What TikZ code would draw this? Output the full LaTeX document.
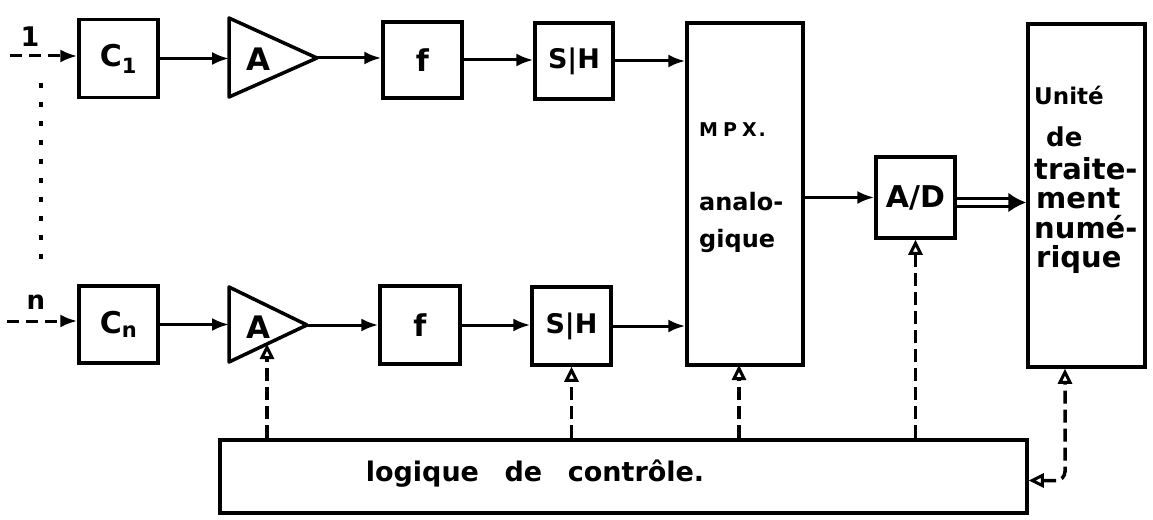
\documentclass[tikz,border=0pt]{standalone}
\usepackage{fontspec}
\setmainfont{DejaVu Sans}
\usetikzlibrary{arrows.meta,calc}
\tikzset{
  ctltip/.tip={Triangle[open,length=15pt,width=14pt,line width=3pt]},
  sigtip/.tip={Latex[length=17pt,width=13pt]}
}
\begin{document}
\begin{tikzpicture}[x=1pt,y=-1pt,
  blk/.style={draw,line width=3.5pt,inner sep=0pt,minimum width=79pt,minimum height=78pt,font=\fontsize{30}{36}\selectfont\bfseries},
  amp/.style={draw,line width=3.5pt,line join=round},
  lbl/.style={inner sep=0pt,font=\fontsize{31}{36}\selectfont\bfseries},
  sig/.style={line width=3pt,-sigtip},
  inp/.style={sig,dash pattern=on 12pt off 7pt},
  ctl/.style={line width=3.5pt,dash pattern=on 13pt off 6pt,-ctltip},
  dotl/.style={line width=3.5pt,dash pattern=on 5pt off 14pt},
  txt/.style={inner sep=0pt,font=\fontsize{24}{30}\selectfont\bfseries},
  utx/.style={inner sep=0pt,anchor=base west,font=\fontsize{29}{36}\selectfont\bfseries}]
\useasboundingbox (0,0) rectangle (1153,519);

% ---------- top channel ----------
\node[lbl,font=\fontsize{27}{32}\selectfont\bfseries] (n1) at (30,37) {1};
\coordinate (in1) at (10,56);
\node[blk] (C1) at (118.5,58.5) {C\textsubscript{1}};
\draw[amp] (229,18) -- (229,97) -- (317,58) -- cycle;
\coordinate (A1in) at (229,58);
\coordinate (A1out) at (317,58);
\node[lbl] (A1) at (258,59) {A};
\node[blk,minimum height=76pt] (F1) at (422.5,60) {f};
\node[blk,minimum width=78pt,minimum height=76pt,font=\fontsize{27}{34}\selectfont\bfseries] (SH1) at (574,61) {S|H};

% ---------- bottom channel ----------
\node[lbl,font=\fontsize{26}{32}\selectfont\bfseries] (nn) at (36,302) {n};
\coordinate (inn) at (7,321);
\node[blk,minimum height=77pt] (Cn) at (118.5,324.5) {C\textsubscript{n}};
\draw[amp] (229,287) -- (229,362) -- (307,325) -- cycle;
\coordinate (A2in) at (229,324.5);
\coordinate (A2out) at (307,325);
\coordinate (A2c) at (267,344);
\node[lbl] (A2) at (258,327) {A};
\node[blk,minimum width=80pt] (F2) at (420,325) {f};
\node[blk,font=\fontsize{27}{34}\selectfont\bfseries] (SH2) at (571.5,326) {S|H};

% ---------- multiplexer, converter, processor ----------
\node[blk,minimum width=116pt,minimum height=342pt] (MPX) at (745,194) {};
\coordinate (mpxc) at (739,365);
\node[txt,anchor=base west,font=\fontsize{19}{22}\selectfont\bfseries] (mpx1) at (699,136) {M\hspace{5pt}P\hspace{5pt}X\hspace{2pt}.};
\node[txt,anchor=base west] (mpx2) at (699,210) {analo-};
\node[txt,anchor=base west] (mpx3) at (699,247) {gique};

\node[blk,minimum height=81pt] (AD) at (915.5,197.5) {A/D};

\node[blk,minimum width=117pt,minimum height=343pt] (UT) at (1086.5,195.5) {};
\node[utx,font=\fontsize{23}{26}\selectfont\bfseries] (u1) at (1034,104) {Unité};
\node[utx,font=\fontsize{26}{30}\selectfont\bfseries] (u2) at (1046,146) {de};
\node[utx] (u3) at (1034,179) {traite-};
\node[utx] (u4) at (1036,208) {ment};
\node[utx] (u5) at (1034,238) {numé-};
\node[utx] (u6) at (1036,267) {rique};

% ---------- control logic ----------
\node[blk,minimum width=807pt,minimum height=73pt] (LG) at (623.5,476.5) {};
\node[inner sep=0pt,font=\fontsize{27}{34}\selectfont\bfseries] (lgt) at (535,474) {logique\hspace{0.6em} de\hspace{0.6em} contrôle.};

% ---------- signal connectors ----------
\draw[inp] (in1) -- (in1 -| C1.west);
\draw[sig] (C1.east) -- (C1.east -| A1in);
\draw[sig] (A1out) -- (A1out -| F1.west);
\draw[sig] (F1.east) -- (F1.east -| SH1.west);
\draw[sig] (SH1.east) -- (SH1.east -| MPX.west);

\coordinate (dtop) at (41,83);
\coordinate (dbot) at (41,273);
\draw[dotl] (dtop) -- (dbot);

\draw[inp] (inn) -- (inn -| Cn.west);
\draw[sig] (Cn.east) -- (Cn.east -| A2in);
\draw[sig] (A2out) -- (A2out -| F2.west);
\draw[sig] (F2.east) -- (F2.east -| SH2.west);
\draw[sig] (SH2.east) -- (SH2.east -| MPX.west);

\draw[sig] (AD.west -| MPX.east) -- (AD.west);

\coordinate (ADo) at ($(AD.east)+(0,5)$);
\coordinate (UTi) at (ADo -| UT.west);
\draw[line width=3pt,double distance=5pt] (ADo) -- ($(UTi)+(-13,0)$);
\draw[line width=3pt,-{Latex[length=18pt,width=20pt]}] ($(UTi)+(-17,0)$) -- (UTi);

% ---------- control connectors ----------
\coordinate (utc) at ($(UT.south)+(-21.5,0)$);
\coordinate (lgi) at ($(LG.east)+(0,4)$);
\draw[ctl] (A2c |- LG.north) -- (A2c);
\draw[ctl] (SH2.south |- LG.north) -- (SH2.south);
\draw[ctl] (mpxc |- LG.north) -- (mpxc);
\draw[ctl] (AD.south |- LG.north) -- (AD.south);
\draw[line width=3.5pt,dash pattern=on 13pt off 6pt,ctltip-ctltip,rounded corners=9pt]
  (lgi) -| (utc);
\end{tikzpicture}
\end{document}
